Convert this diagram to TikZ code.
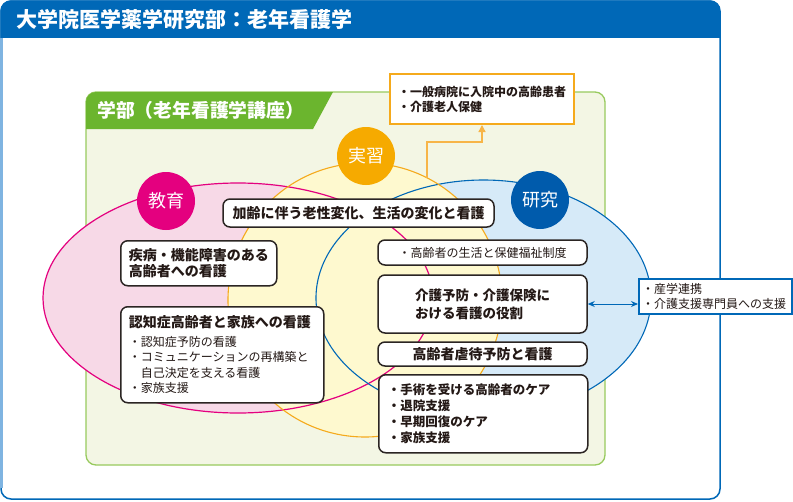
\documentclass[tikz,border=0pt]{standalone}
\usepackage{fontspec}
\setmainfont{Noto Sans CJK JP}
\usetikzlibrary{arrows.meta}
\definecolor{hdrblue}{HTML}{0068B7}
\definecolor{lightblue}{HTML}{7FB4E1}
\definecolor{tabgreen}{HTML}{6BB52E}
\definecolor{gfill}{HTML}{F3F6E4}
\definecolor{gborder}{HTML}{98CA5E}
\definecolor{pinkfill}{HTML}{F7D9E7}
\definecolor{pinkline}{HTML}{E4007F}
\definecolor{yelfill}{HTML}{FEF9CF}
\definecolor{yelline}{HTML}{F5AA1C}
\definecolor{bluefill}{HTML}{D6EAF8}
\definecolor{blueline}{HTML}{0068B7}
\definecolor{badgepink}{HTML}{E4007F}
\definecolor{badgeorange}{HTML}{F6AA00}
\definecolor{badgeblue}{HTML}{005BAC}
\definecolor{boxline}{HTML}{2B2523}
\definecolor{txt}{HTML}{231815}
\definecolor{orangeline}{HTML}{F7B548}
\newcommand\fsz[2]{\fontsize{#1}{#2}\selectfont}
\tikzset{
  rbox/.style={draw=boxline, line width=1.5pt, fill=white, rounded corners=7pt, inner ysep=0pt, text=txt},
  obox/.style={draw=yelline, line width=2pt, fill=white, inner ysep=0pt, text=txt},
  bbox/.style={draw=blueline, line width=2pt, fill=white, inner ysep=0pt, text=txt},
  badge/.style={circle, minimum size=58pt, inner sep=0pt, text=white, font=\fsz{18}{18}},
}
\begin{document}
\begin{tikzpicture}[x=1pt,y=-1pt]
\useasboundingbox (0,0) rectangle (793,501);
% outer frame
\begin{scope}
\clip[rounded corners=11pt] (0.3,0.3) rectangle (720.7,499.7);
\fill[white] (0,0) rectangle (721,500);
\fill[hdrblue] (0,0) rectangle (721,38);
\end{scope}
\draw[hdrblue, line width=1.5pt, rounded corners=10pt] (1,1) rectangle (720,499);
\draw[lightblue, line width=2.5pt] (1.25,38) -- (1.25,488);
\node[anchor=west, inner sep=0pt, text=white, font=\fsz{21}{21}\bfseries] (title) at (16,20) {大学院医学薬学研究部：老年看護学};
% green box
\draw[gborder, fill=gfill, line width=1.3pt, rounded corners=10pt] (86,92) rectangle (605,465);
\begin{scope}
\clip[rounded corners=10pt] (86,92) rectangle (605,465);
\fill[tabgreen] (85,91) -- (333.5,91) -- (313,129) -- (85,129) -- cycle;
\end{scope}
\node[anchor=west, inner sep=0pt, text=white, font=\fsz{18.8}{19}\bfseries] (tabt) at (97,110) {学部（老年看護学講座）};
% ellipses
\fill[pinkfill] (238,298) ellipse [x radius=195pt, y radius=115pt];
\fill[bluefill] (483.5,298) ellipse [x radius=167.5pt, y radius=118pt];
\fill[yelfill] (365,300) circle [radius=137pt];
\draw[pinkline, line width=1.2pt] (238,298) ellipse [x radius=195pt, y radius=115pt];
\draw[blueline, line width=1.1pt] (483.5,298) ellipse [x radius=167.5pt, y radius=118pt];
\draw[yelline, line width=1.1pt] (365,300) circle [radius=137pt];
% badges
\node[badge, fill=badgepink] (kyo) at (166,201) {教育};
\node[badge, fill=badgeorange] (jis) at (366,156) {実習};
\node[badge, fill=badgeblue] (ken) at (540,200) {研究};
% boxes
\node[rbox, minimum width=271, minimum height=28, font=\fsz{14}{16}\bfseries] (b1) at (358.5,213) {加齢に伴う老性変化、生活の変化と看護};
\node[rbox, anchor=north west, text width=140, inner xsep=8, minimum height=45, align=left, font=\fsz{14}{16}\bfseries] (b2) at (120,240) {疾病・機能障害のある\\高齢者への看護};
\node[rbox, minimum width=209, minimum height=25, font=\fsz{12}{14}] (b3) at (482.5,252.5) {・高齢者の生活と保健福祉制度};
\node[rbox, minimum width=209, minimum height=58, align=left, font=\fsz{13.5}{18}\bfseries] (b4) at (482.5,304) {介護予防・介護保険に\\おける看護の役割};
\node[rbox, minimum width=209, minimum height=24, font=\fsz{14}{16}\bfseries] (b5) at (482.5,354) {高齢者虐待予防と看護};
\node[rbox, anchor=north west, text width=191, inner xsep=9, minimum height=78, align=left, font=\fsz{12.5}{16}\bfseries] (b6) at (378,374) {・手術を受ける高齢者のケア\\・退院支援\\・早期回復のケア\\・家族支援};
\node[rbox, anchor=north west, text width=187, inner xsep=8, minimum height=96, align=left, font=\fsz{12}{15.5}] (b7) at (120,306) {{\fsz{14}{16}\bfseries 認知症高齢者と家族への看護}\\[3pt]・認知症予防の看護\\・コミュニケーションの再構築と\\\hspace*{12pt}自己決定を支える看護\\・家族支援};
% practice box
\node[obox, anchor=north west, text width=168, inner xsep=8, minimum height=50, align=left, font=\fsz{12}{15}\bfseries] (ob) at (389,73) {・一般病院に入院中の高齢患者\\・介護老人保健};
% research box
\node[bbox, anchor=north west, text width=147, inner xsep=3, minimum height=35, align=left, font=\fsz{12}{15}] (rb) at (638,278) {・産学連携\\・介護支援専門員への支援};
% connectors
\coordinate (ja) at (427,178);
\draw[orangeline, line width=1.3pt, -{Triangle[length=7pt,width=7pt]}] (ja) -- ++(0,-36) -| (ob.south);
\draw[blueline, line width=1pt, {Stealth[length=7pt,width=6pt]}-{Stealth[length=7pt,width=6pt]}] (b4.east) -- (b4.east -| rb.west);
\end{tikzpicture}
\end{document}
